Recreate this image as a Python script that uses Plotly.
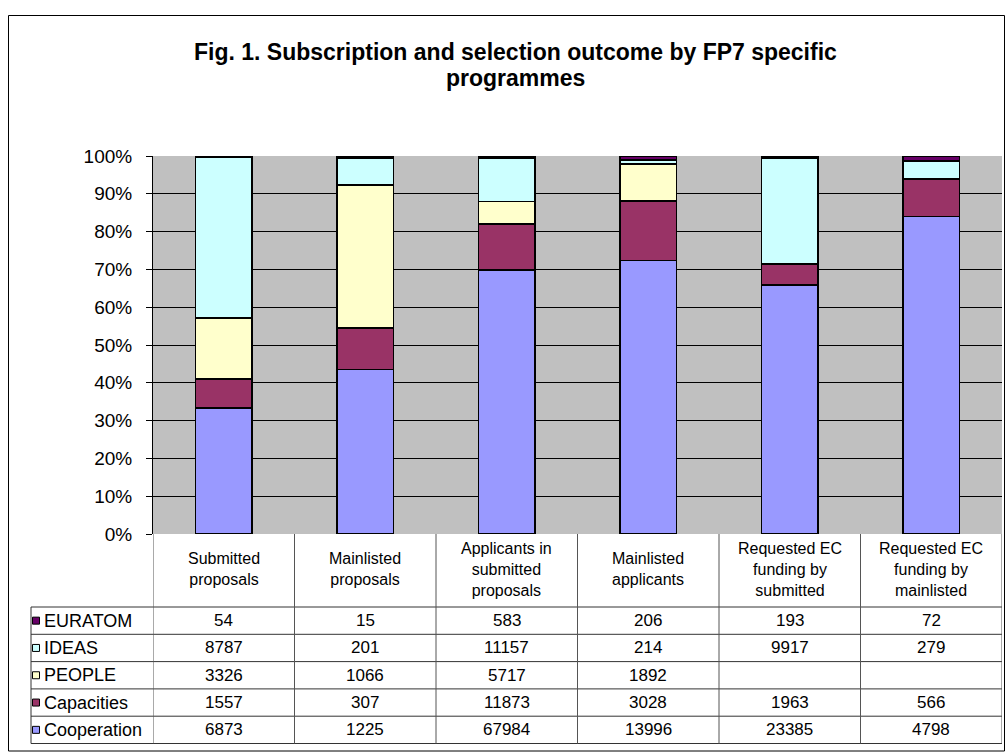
import plotly.graph_objects as go

# ---------------- data ----------------
categories = [
    "Submitted<br>proposals",
    "Mainlisted<br>proposals",
    "Applicants in<br>submitted<br>proposals",
    "Mainlisted<br>applicants",
    "Requested EC<br>funding by<br>submitted",
    "Requested EC<br>funding by<br>mainlisted",
]
euratom = [54, 15, 583, 206, 193, 72]
ideas = [8787, 201, 11157, 214, 9917, 279]
people = [3326, 1066, 5717, 1892, None, None]
capacities = [1557, 307, 11873, 3028, 1963, 566]
cooperation = [6873, 1225, 67984, 13996, 23385, 4798]

series_names = ["EURATOM", "IDEAS", "PEOPLE", "Capacities", "Cooperation"]  # table order
series_values = [euratom, ideas, people, capacities, cooperation]
series_colors = ["#660066", "#CCFFFF", "#FFFFCC", "#993366", "#9999FF"]

y_tick_vals = [0, 10, 20, 30, 40, 50, 60, 70, 80, 90, 100]
y_tick_text = ["0%", "10%", "20%", "30%", "40%", "50%", "60%", "70%", "80%", "90%", "100%"]

title_lines = ["Fig. 1. Subscription and selection outcome by FP7 specific", "programmes"]

# ---------------- layout geometry (pixels) ----------------
W, H = 1008, 753
L, R, T, B = 153, 1002, 156, 534
FONT = "Liberation Sans, Arial, sans-serif"


def fx(px):
    return (px - L) / (R - L)


def fy(py):
    return (B - py) / (B - T)


xpos = list(range(len(categories)))

fig = go.Figure()
# stack bottom -> top
for name, vals, col in reversed(list(zip(series_names, series_values, series_colors))):
    fig.add_trace(go.Bar(
        x=xpos, y=[v if v is not None else 0 for v in vals], name=name,
        marker=dict(color=col, line=dict(color="black", width=1.6)),
        width=0.40, showlegend=False,
    ))

shapes = []
annotations = []

# outer chart border
shapes.append(dict(type="rect", xref="paper", yref="paper",
                   x0=fx(8.5), x1=fx(1004.5), y0=fy(751), y1=fy(15.5),
                   line=dict(color="black", width=1), layer="below"))

# table rows
row_tops = [607, 634.3, 661.6, 688.9, 716.2, 743.5]
line_col = "#333333"
for ry in row_tops:
    shapes.append(dict(type="line", xref="paper", yref="paper",
                       x0=fx(31), x1=1, y0=fy(ry), y1=fy(ry),
                       line=dict(color=line_col, width=1)))
# column separators (header + data)
for k in range(len(categories) + 1):
    shapes.append(dict(type="line", xref="x", yref="paper",
                       x0=k - 0.5, x1=k - 0.5, y0=fy(B), y1=fy(row_tops[-1]),
                       line=dict(color="#555555", width=1)))
# legend column left border
shapes.append(dict(type="line", xref="paper", yref="paper",
                   x0=fx(31), x1=fx(31), y0=fy(row_tops[0]), y1=fy(row_tops[-1]),
                   line=dict(color=line_col, width=1)))

# header labels
for i, cat in enumerate(categories):
    annotations.append(dict(x=i, y=fy(569), xref="x", yref="paper", text=cat,
                            showarrow=False, xanchor="center", yanchor="middle",
                            font=dict(family=FONT, size=16, color="black")))

# data rows
for r, (name, vals, col) in enumerate(zip(series_names, series_values, series_colors)):
    yc = (row_tops[r] + row_tops[r + 1]) / 2
    shapes.append(dict(type="rect", xref="paper", yref="paper",
                       x0=fx(32.5), x1=fx(39.5), y0=fy(yc + 3.5), y1=fy(yc - 3.5),
                       fillcolor=col, line=dict(color="black", width=1)))
    annotations.append(dict(x=fx(41.5), y=fy(yc), xref="paper", yref="paper", text=name,
                            showarrow=False, xanchor="left", yanchor="middle",
                            font=dict(family=FONT, size=18, color="black")))
    for i, v in enumerate(vals):
        annotations.append(dict(x=i, y=fy(yc), xref="x", yref="paper",
                                text="" if v is None else str(v),
                                showarrow=False, xanchor="center", yanchor="middle",
                                font=dict(family=FONT, size=17, color="black")))

# title (two lines placed separately to control line spacing)
for j, line in enumerate(title_lines):
    annotations.append(dict(x=fx(515), y=fy(52 + 26 * j), xref="paper", yref="paper",
                            text="<b>" + line + "</b>",
                            showarrow=False, xanchor="center", yanchor="middle",
                            font=dict(family=FONT, size=23, color="black")))

fig.update_layout(
    width=W, height=H, autosize=False,
    margin=dict(l=L, r=W - R, t=T, b=H - B, pad=0),
    paper_bgcolor="white", plot_bgcolor="#C0C0C0",
    barmode="stack", barnorm="percent",
    showlegend=False,
    shapes=shapes, annotations=annotations,
    xaxis=dict(range=[-0.5, len(categories) - 0.5], showticklabels=False, ticks="",
               showgrid=False, zeroline=False, showline=False, fixedrange=True),
    yaxis=dict(range=[0, 100], tickvals=y_tick_vals, ticktext=y_tick_text,
               ticks="outside", ticklen=6, tickcolor="black", tickwidth=1,
               ticklabelstandoff=10,
               showgrid=True, gridcolor="black", gridwidth=1,
               zeroline=False, showline=True, linecolor="black", linewidth=1,
               tickfont=dict(family=FONT, size=19, color="black"), fixedrange=True),
    font=dict(family=FONT, color="black"),
)

fig.write_html("out.html", config={"displayModeBar": False},
               post_script="document.body.style.margin='0';document.body.style.overflow='hidden';")
